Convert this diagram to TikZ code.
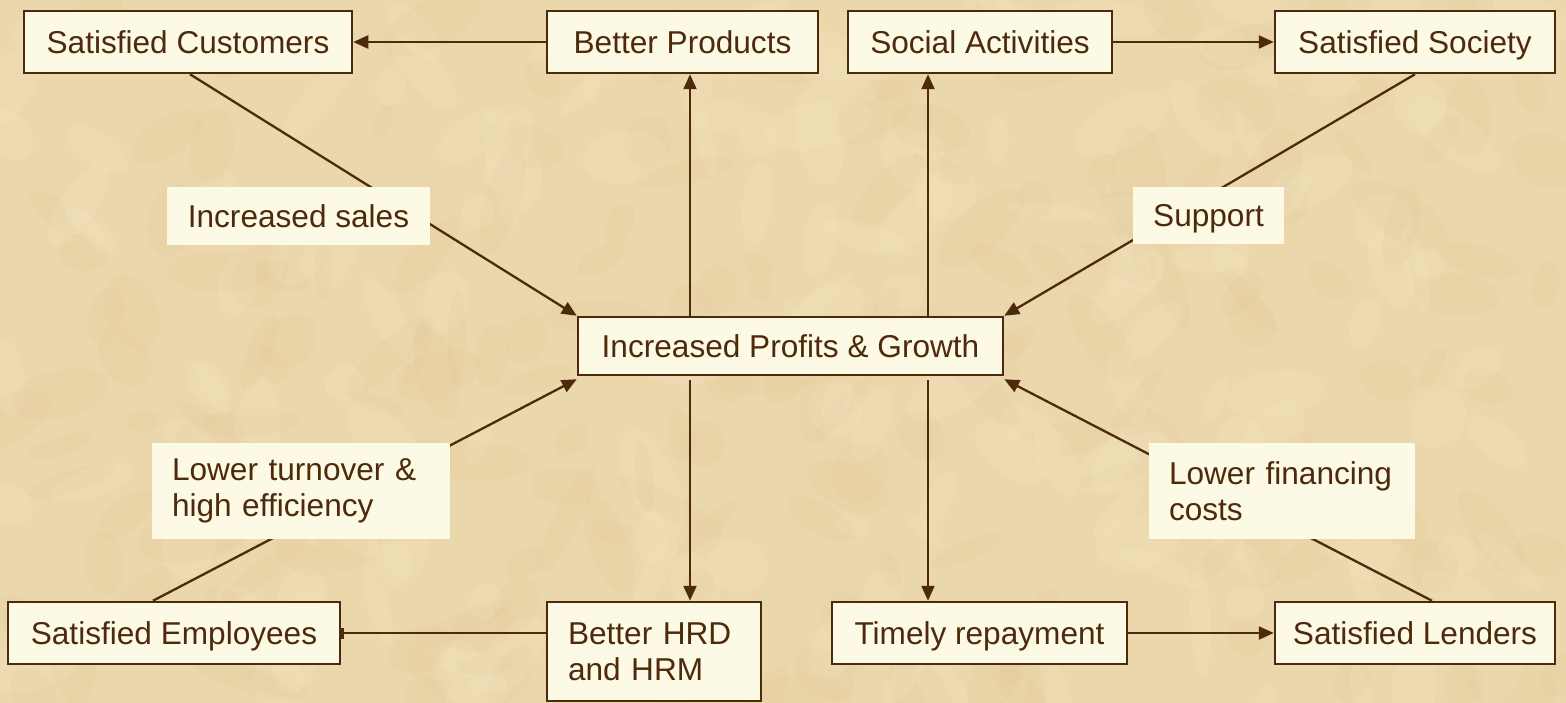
\documentclass[tikz,border=0pt]{standalone}
\usepackage{fontspec}
\setmainfont{Liberation Sans}
\usetikzlibrary{arrows.meta}
\definecolor{bg}{RGB}{235,215,172}
\definecolor{bglight}{RGB}{245,229,194}
\definecolor{bgdark}{RGB}{222,197,150}
\definecolor{ink}{RGB}{78,42,12}
\definecolor{cream}{RGB}{252,250,228}
\pgfdeclarelayer{bgl}
\pgfdeclarelayer{back}
\pgfsetlayers{bgl,back,main}
\begin{document}
\begin{tikzpicture}[x=1pt,y=-1pt,
  txt/.style={text=ink, font=\fontsize{31.6}{36}\selectfont},
  box/.style={txt, draw=ink, line width=2.5pt, fill=cream, inner sep=0pt,
    text height=28.6pt, text depth=6pt, minimum height=62pt},
  box2/.style={txt, draw=ink, line width=2.5pt, fill=cream, inner xsep=21pt, inner ysep=0pt, align=left},
  lbl/.style={txt, fill=cream, inner sep=0pt, text height=28.6pt, text depth=6pt},
  lbl2/.style={txt, fill=cream, inner xsep=20pt, inner ysep=0pt, align=left},
  conn/.style={draw=ink, line width=2.3pt},
  arr/.style={conn, -{Triangle[length=15pt,width=13pt]}},
  tick/.style={conn, -{Rectangle[length=3pt,width=11pt]}}]
\useasboundingbox (0,0) rectangle (1566,703);
\begin{pgfonlayer}{bgl}
  \fill[bg] (0,0) rectangle (1566,703);
  \begin{scope}
  \clip (0,0) rectangle (1566,703);
  \pgfmathsetseed{7}
  \foreach \i in {1,...,360}{
    \pgfmathsetmacro{\px}{rnd*1566}
    \pgfmathsetmacro{\py}{rnd*703}
    \pgfmathsetmacro{\rx}{15+rnd*45}
    \pgfmathsetmacro{\ry}{8+rnd*20}
    \pgfmathsetmacro{\ang}{rnd*180}
    \pgfmathtruncatemacro{\c}{rnd*2}
    \ifnum\c=0
      \fill[bglight, opacity=0.22, rotate around={\ang:(\px,\py)}] (\px,\py) ellipse [x radius=\rx, y radius=\ry];
    \else
      \fill[bgdark, opacity=0.14, rotate around={\ang:(\px,\py)}] (\px,\py) ellipse [x radius=\rx, y radius=\ry];
    \fi
  }
  \end{scope}
\end{pgfonlayer}

% main boxes
\node[box, minimum width=328pt] (cust) at (188,42) {Satisfied Customers};
\node[box, minimum width=271pt] (prod) at (682.5,42) {Better Products};
\node[box, minimum width=264pt] (soc) at (980,42) {Social Activities};
\node[box, minimum width=280pt] (soci) at (1415,42) {Satisfied Society};
\node[box, minimum width=425pt, minimum height=58pt] (ctr) at (790.5,346) {Increased Profits \& Growth};
\node[box, minimum width=332pt] (emp) at (174,633) {Satisfied Employees};
\node[box2, text width=172pt, minimum height=99pt] (hrd) at (654,651.5) {Better HRD\\and HRM};
\node[box, minimum width=295pt] (tim) at (979.5,633) {Timely repayment};
\node[box, minimum width=280pt] (lend) at (1415,633) {Satisfied Lenders};

% labels
\node[lbl, minimum width=263pt, minimum height=58pt] (sales) at (298.5,216) {Increased sales};
\node[lbl, minimum width=151pt, minimum height=57pt] (supp) at (1208.5,215.5) {Support};
\node[lbl2, text width=258pt, minimum height=96pt] (turn) at (301,491) {Lower turnover \&\\high efficiency};
\node[lbl2, text width=226pt, minimum height=96pt] (fin) at (1282,491) {Lower financing\\costs};

\begin{pgfonlayer}{back}
  \draw[arr] ([xshift=2pt]cust.south) -- (ctr.north west);
  \draw[arr] (soci.south) -- (ctr.north east);
  \draw[arr] ([xshift=-21pt]emp.north) -- ([yshift=-3pt]ctr.south west);
  \draw[arr] ([xshift=17pt]lend.north) -- ([yshift=-3pt]ctr.south east);
\end{pgfonlayer}

% vertical arrows
\draw[arr] ([xshift=-100.5pt]ctr.north) -- ([xshift=-100.5pt]ctr.north |- prod.south);
\draw[arr] ([xshift=137.5pt]ctr.north) -- ([xshift=137.5pt]ctr.north |- soc.south);
\draw[arr] ([xshift=-100.5pt,yshift=-4pt]ctr.south) -- ([xshift=-100.5pt]ctr.south |- hrd.north);
\draw[arr] ([xshift=137.5pt,yshift=-4pt]ctr.south) -- ([xshift=137.5pt]ctr.south |- tim.north);

% horizontal arrows
\draw[arr] (prod.west) -- (cust.east);
\draw[arr] (soc.east) -- (soci.west);
\draw[arr] (tim.east) -- (lend.west);
\draw[tick] (hrd.west |- emp.east) -- (emp.east);
\end{tikzpicture}
\end{document}
